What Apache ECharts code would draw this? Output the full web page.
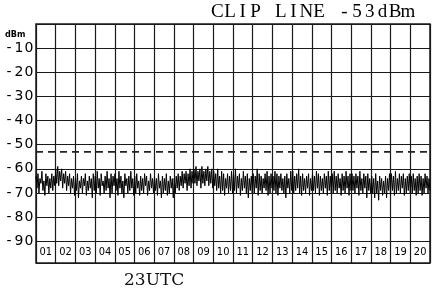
<!DOCTYPE html>
<html><head><meta charset="utf-8">
<script src="https://cdn.jsdelivr.net/npm/echarts@6/dist/echarts.min.js"></script>
<style>html,body{margin:0;padding:0;background:#fff}#c{width:432px;height:296px}</style>
</head><body><div id="c"></div>
<script>
const columns = ['01','02','03','04','05','06','07','08','09','10','11','12','13','14','15','16','17','18','19','20'];
const yTickLabels = ['-10','-20','-30','-40','-50','-60','-70','-80','-90'];
const clipLevel = -53;
const unitLabel = 'dBm';
const timeLabel = '23UTC';
const trace = [
 -63,-68,-62,-70,-64,-66,-61,-69,-65,-71,-62,-67,-63,-70,-64,-68,-62,-69,-63,-67,
 -60,-66,-59,-67,-61,-65,-60,-68,-62,-66,-61,-69,-63,-67,-62,-70,-64,-68,-63,-71,
 -64,-69,-62,-72,-65,-68,-63,-70,-64,-67,-62,-71,-65,-69,-63,-68,-64,-72,-62,-69,
 -63,-70,-61,-68,-64,-71,-62,-67,-65,-70,-63,-69,-61,-68,-64,-72,-62,-70,-63,-67,
 -62,-69,-64,-71,-61,-68,-63,-70,-65,-72,-62,-67,-64,-70,-63,-69,-61,-68,-64,-71,
 -63,-70,-62,-68,-65,-71,-63,-69,-64,-70,-62,-67,-63,-71,-65,-69,-62,-68,-64,-70,
 -63,-69,-64,-71,-62,-68,-65,-72,-63,-70,-64,-69,-62,-71,-65,-70,-63,-68,-64,-72,
 -64,-70,-63,-68,-62,-69,-63,-67,-61,-68,-62,-66,-61,-69,-62,-67,-60,-68,-61,-66,
 -60,-66,-59,-67,-61,-65,-60,-68,-59,-66,-61,-67,-60,-65,-59,-67,-61,-66,-60,-68,
 -61,-67,-62,-69,-60,-68,-63,-70,-61,-69,-62,-71,-64,-68,-62,-70,-63,-69,-61,-70,
 -62,-69,-60,-70,-63,-68,-62,-71,-64,-69,-61,-68,-63,-70,-62,-72,-64,-69,-63,-70,
 -62,-70,-63,-68,-60,-71,-62,-69,-63,-70,-64,-68,-62,-69,-61,-71,-63,-70,-62,-68,
 -63,-69,-61,-70,-62,-71,-63,-68,-62,-69,-64,-70,-63,-72,-62,-68,-64,-70,-61,-69,
 -61,-70,-63,-69,-62,-68,-60,-70,-63,-71,-62,-69,-64,-70,-63,-68,-62,-71,-64,-69,
 -62,-69,-63,-70,-61,-68,-62,-71,-63,-69,-64,-70,-62,-68,-63,-71,-61,-69,-63,-70,
 -62,-70,-61,-69,-63,-70,-62,-68,-64,-71,-62,-69,-63,-70,-61,-68,-63,-71,-62,-69,
 -62,-69,-63,-70,-62,-68,-63,-71,-61,-69,-64,-70,-62,-68,-63,-72,-62,-69,-64,-70,
 -63,-70,-64,-72,-62,-70,-65,-73,-63,-69,-64,-71,-65,-70,-63,-72,-64,-69,-62,-71,
 -62,-69,-63,-71,-61,-70,-64,-69,-62,-70,-63,-68,-62,-71,-64,-70,-63,-69,-62,-70,
 -63,-70,-62,-69,-64,-71,-63,-70,-62,-69,-63,-71,-64,-70,-62,-68,-63,-70,-64,-69
];

const n = columns.length;
const traceData = trace.map((v, i) => [i * n / (trace.length - 1), -v]);
const mono = (s, cls) => s.split('').map(ch => '{' + cls + '|' + ch + '}').join('');
const chart = echarts.init(document.getElementById('c'), null, {renderer: 'canvas'});
const lineCol = '#1a1a1a';
chart.setOption({
  animation: false,
  grid: {left: 36, right: 2, top: 24, bottom: 33, show: true, borderColor: lineCol, borderWidth: 1.5, backgroundColor: '#fff'},
  xAxis: [
    {type: 'value', min: 0, max: n, interval: 1, axisLine: {show: false}, axisTick: {show: false}, axisLabel: {show: false},
     splitLine: {show: true, lineStyle: {color: lineCol, width: 1.2}}},
    {type: 'category', data: columns, position: 'bottom', boundaryGap: true, axisLine: {show: false}, axisTick: {show: false},
     splitLine: {show: false},
     axisLabel: {inside: true, margin: 5, color: '#000', fontSize: 11, fontFamily: 'DejaVu Sans Condensed, DejaVu Sans', interval: 0}}
  ],
  yAxis: {type: 'value', inverse: true, min: 0, max: 99, interval: 10,
    axisLine: {show: false}, axisTick: {show: false},
    splitLine: {show: true, lineStyle: {color: lineCol, width: 1.2}},
    axisLabel: {margin: 2, color: '#000', fontFamily: 'DejaVu Sans', fontSize: 14,
      formatter: v => {
        const t = yTickLabels[v / 10 - 1];
        return t ? mono(t, 'd') : '';
      },
      rich: {d: {width: 10, align: 'center', fontSize: 14, fontFamily: 'DejaVu Sans', color: '#000'}}}
  },
  series: [
    {type: 'line', xAxisIndex: 0, data: traceData, symbol: 'none', lineStyle: {color: '#000', width: 1}, z: 3},
    {type: 'line', xAxisIndex: 0, data: [[0, -clipLevel], [n, -clipLevel]], symbol: 'none',
     lineStyle: {color: '#222', width: 1.8, type: [7, 5]}, z: 2}
  ],
  graphic: [
    {type: 'text', left: 211, top: 3, style: {text: mono('CLIP LINE ' + clipLevel + 'dBm', 't'),
      rich: {t: {width: 12.7, align: 'center', fontSize: 19, fontFamily: 'Liberation Serif', fill: '#000', color: '#000'}}}},
    {type: 'text', left: 124, top: 272, style: {text: timeLabel, font: '17px "DejaVu Serif"', fill: '#111'}},
    {type: 'text', left: 5, top: 30, style: {text: unitLabel, font: 'bold 9px "DejaVu Sans Condensed", "DejaVu Sans"', fill: '#000'}}
  ]
});
</script></body></html>
